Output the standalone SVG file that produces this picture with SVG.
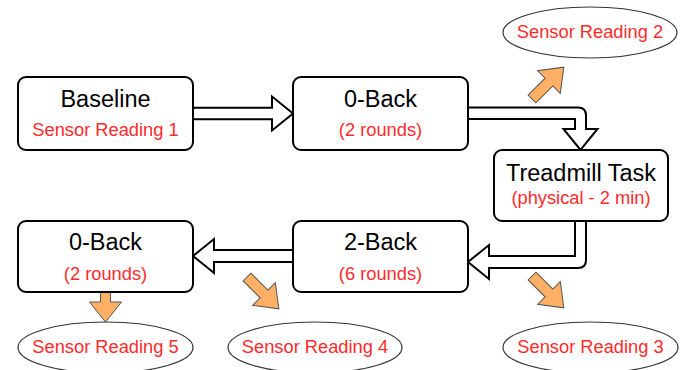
<svg xmlns="http://www.w3.org/2000/svg" width="691" height="370" viewBox="0 0 691 370">
<style>
.box{fill:#fff;stroke:#000;stroke-width:2}
.ell{fill:#fff;stroke:#333;stroke-width:1.2}
.blk{fill:#fff;stroke:#000;stroke-width:2;stroke-linejoin:miter}
.org{fill:#ffb064;stroke:#555;stroke-width:1}
.t{font-family:"Liberation Sans",Arial,sans-serif;font-size:23.5px;fill:#000;text-anchor:middle}
.s{font-family:"Liberation Sans",Arial,sans-serif;font-size:18.3px;fill:#ff2b2b;text-anchor:middle}
</style>
<defs>
<path id="oarr" d="M0,-5.5 H24 V-16 L45,0 L24,16 V5.5 H0 Z"/>
</defs>
<rect width="691" height="370" fill="#fff"/>
<g id="connectors">
<path class="blk" d="M193,107.8 H272 V96.5 L293,113.5 L272,130.5 V119.2 H193 Z"/>
<path class="blk" d="M468,107.5 H578 Q586,107.5 586,115.5 V129 H597.5 L580.5,150 L563.5,129 H575 V119 H468 Z"/>
<path class="blk" d="M575,221 V256 H489 V245 L468,262 L489,279 V268 H578 Q586,268 586,260 V221 Z"/>
<path class="blk" d="M293,250 H214 V239 L193,256 L214,273 V262 H293 Z"/>
<use href="#oarr" class="org" transform="translate(532,99) rotate(-45)"/>
<use href="#oarr" class="org" transform="translate(532,276) rotate(45)"/>
<use href="#oarr" class="org" transform="translate(247,277) rotate(45)"/>
<path class="org" d="M100.5,292 H110.5 V302 H121.5 L105.5,322 L89.5,302 H100.5 Z"/>
</g>
<g id="baseline">
<rect class="box" x="18" y="77" width="175" height="73" rx="8"/>
<text class="t" x="105.5" y="107">Baseline</text>
<text class="s" x="105.5" y="136">Sensor Reading 1</text>
</g>
<g id="zeroback1">
<rect class="box" x="293" y="77" width="175" height="73" rx="8"/>
<text class="t" x="380.5" y="107">0-Back</text>
<text class="s" x="380.5" y="136">(2 rounds)</text>
</g>
<g id="treadmill">
<rect class="box" x="494" y="150" width="174" height="71" rx="8"/>
<text class="t" x="581" y="181">Treadmill Task</text>
<text class="s" x="581" y="204">(physical - 2 min)</text>
</g>
<g id="twoback">
<rect class="box" x="293" y="221" width="175" height="71" rx="8"/>
<text class="t" x="380.5" y="250">2-Back</text>
<text class="s" x="380.5" y="280">(6 rounds)</text>
</g>
<g id="zeroback2">
<rect class="box" x="18" y="221" width="175" height="71" rx="8"/>
<text class="t" x="105.5" y="250">0-Back</text>
<text class="s" x="105.5" y="280">(2 rounds)</text>
</g>
<g id="sensor2">
<ellipse class="ell" cx="590" cy="32.5" rx="87" ry="25.5"/>
<text class="s" x="590" y="38">Sensor Reading 2</text>
</g>
<g id="sensor3">
<ellipse class="ell" cx="590.5" cy="347.5" rx="87.5" ry="25.5"/>
<text class="s" x="590.5" y="353">Sensor Reading 3</text>
</g>
<g id="sensor4">
<ellipse class="ell" cx="315" cy="347.5" rx="87" ry="25.5"/>
<text class="s" x="315" y="353">Sensor Reading 4</text>
</g>
<g id="sensor5">
<ellipse class="ell" cx="105.5" cy="347.5" rx="87.5" ry="25.5"/>
<text class="s" x="105.5" y="353">Sensor Reading 5</text>
</g>
</svg>
